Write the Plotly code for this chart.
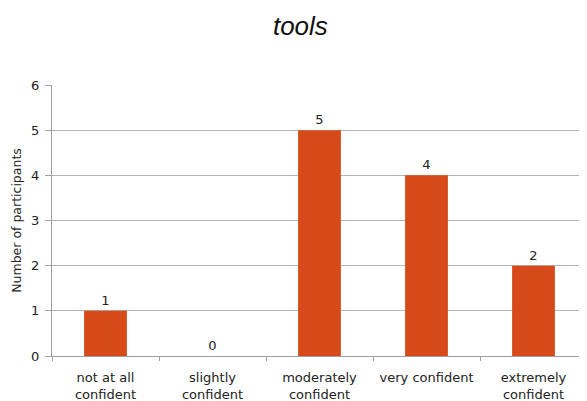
import plotly.graph_objects as go

categories = [
    "not at all<br>confident",
    "slightly<br>confident",
    "moderately<br>confident",
    "very confident",
    "extremely<br>confident",
]
participants = [1, 0, 5, 4, 2]

BAR_COLOR = "#D64A19"
TEXT_COLOR = "#222222"
AXIS_GRAY = "#A0A0A0"

fig = go.Figure()
fig.add_trace(
    go.Bar(
        x=categories,
        y=participants,
        width=0.4,
        marker={"color": BAR_COLOR, "line": {"width": 0}},
        text=[str(v) for v in participants],
        textposition="outside",
        textfont={"family": "DejaVu Sans", "size": 13, "color": TEXT_COLOR},
        cliponaxis=False,
    )
)

# page body has an 8px margin, so the figure is sized to fit inside it
fig.update_layout(
    width=579,
    height=393,
    margin={"t": 77, "b": 45, "l": 44, "r": 0},
    paper_bgcolor="white",
    plot_bgcolor="white",
    showlegend=False,
    title={
        "text": "<i>tools</i>",
        "x": 0.505,
        "xanchor": "center",
        "y": 0.955,
        "yanchor": "middle",
        "font": {"family": "Liberation Sans", "size": 26, "color": "#111111"},
    },
    xaxis={
        "automargin": False,
        "showgrid": False,
        "showline": True,
        "linecolor": AXIS_GRAY,
        "ticks": "outside",
        "tickson": "boundaries",
        "ticklen": 4,
        "tickcolor": AXIS_GRAY,
        "ticklabelstandoff": 9,
        "tickfont": {"family": "DejaVu Sans", "size": 13, "color": TEXT_COLOR},
    },
    yaxis={
        "automargin": False,
        "range": [0, 6],
        "dtick": 1,
        "showgrid": True,
        "gridcolor": "#B4B4B4",
        "showline": True,
        "linecolor": AXIS_GRAY,
        "ticks": "outside",
        "ticklen": 6,
        "tickcolor": AXIS_GRAY,
        "ticklabelstandoff": 3,
        "zeroline": False,
        "tickfont": {"family": "DejaVu Sans", "size": 13, "color": TEXT_COLOR},
        "title": {
            "text": "Number of participants",
            "font": {"family": "DejaVu Sans", "size": 12.5, "color": TEXT_COLOR},
            "standoff": 6,
        },
    },
)

fig.write_html("out.html")
